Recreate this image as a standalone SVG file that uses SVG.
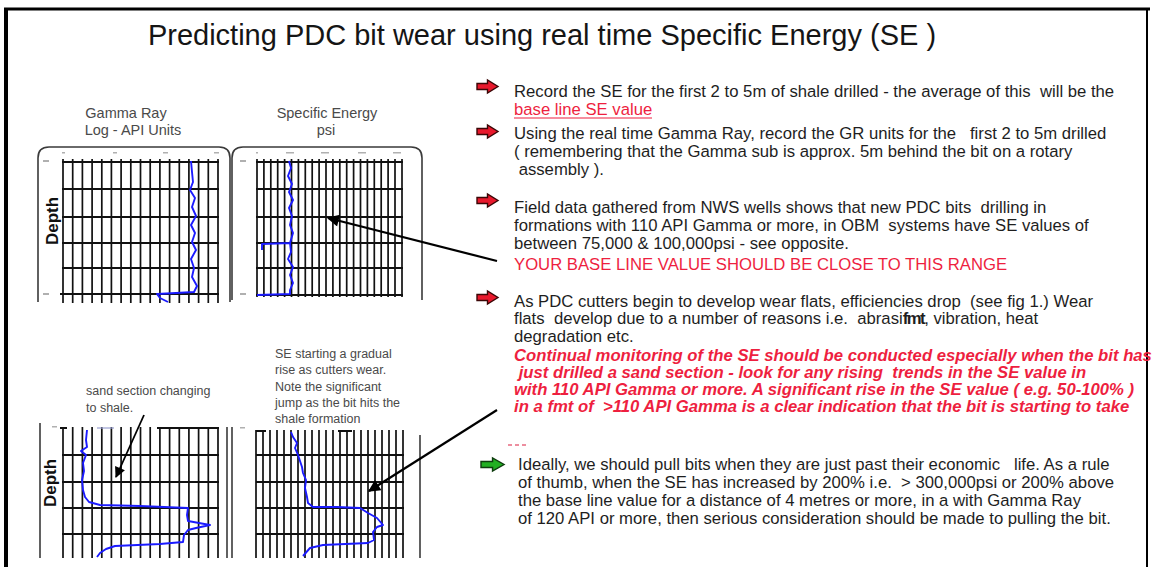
<svg xmlns="http://www.w3.org/2000/svg" width="1152" height="567" viewBox="0 0 1152 567">
<defs>
<style>
text{white-space:pre}
.title{font-family:"Liberation Sans",Arial,sans-serif;font-size:29px;fill:#151515}
.ct{font-family:"Liberation Sans",Arial,sans-serif;font-size:14.5px;fill:#4a4a4a}
.ann{font-family:"Liberation Sans",Arial,sans-serif;font-size:12.5px;fill:#4a4a4a}
.depth{font-family:"Liberation Sans",Arial,sans-serif;font-size:17px;font-weight:bold;fill:#111}
.body{font-family:"Liberation Sans",Arial,sans-serif;font-size:16.7px;fill:#1e1e1e}
.red{font-family:"Liberation Sans",Arial,sans-serif;font-size:16.7px;fill:#ee1f3f}
.redbi{font-family:"Liberation Sans",Arial,sans-serif;font-size:16.7px;font-weight:bold;font-style:italic;fill:#ee1f3f}
.frame{fill:none;stroke:#3a3a3a;stroke-width:1.6}
.gv{fill:none;stroke:#111;stroke-width:1.7}
.gh{fill:none;stroke:#111;stroke-width:2.2}
.curve{fill:none;stroke:#1a1aff;stroke-width:1.9;stroke-linejoin:round}
.tick{fill:#b0b0b0}
.conn{fill:none;stroke:#000;stroke-width:2.2}
</style>
<marker id="ah" viewBox="0 0 10 10" refX="9" refY="5" markerWidth="8" markerHeight="5.5" markerUnits="strokeWidth" orient="auto">
<path d="M0,0 L10,5 L0,10 Z" fill="#000"/>
</marker>
<marker id="ahs" viewBox="0 0 10 10" refX="9" refY="5" markerWidth="7" markerHeight="6" markerUnits="strokeWidth" orient="auto">
<path d="M0,0 L10,5 L0,10 Z" fill="#000"/>
</marker>
<path id="blk" d="M0,3.5 H10.5 V0 L21,6.5 L10.5,13 V9.5 H0 Z"/>
</defs>

<rect width="1152" height="567" fill="#fff"/>

<g id="border">
<line x1="4" y1="9" x2="1150" y2="9" stroke="#000" stroke-width="3"/>
<line x1="6" y1="8" x2="6" y2="567" stroke="#000" stroke-width="4"/>
<line x1="1147" y1="8" x2="1147" y2="567" stroke="#000" stroke-width="2"/>
</g>

<g id="title">
<text class="title" x="542" y="45" text-anchor="middle">Predicting PDC bit wear using real time Specific Energy (SE )</text>
</g>

<g id="chart-gamma-top">
<text class="ct" x="126" y="118" text-anchor="middle">Gamma Ray</text>
<text class="ct" x="133" y="135" text-anchor="middle">Log - API Units</text>
<path class="frame" d="M38,302 V158 Q38,147 49,147 H219 Q230,147 230,158 V302"/>
<rect class="tick" x="62" y="152" width="3" height="1.5"/><rect class="tick" x="113" y="152" width="4" height="1.5"/><rect class="tick" x="163" y="152" width="5" height="1.5"/><rect class="tick" x="214" y="152" width="5" height="1.5"/>
<rect class="tick" x="43" y="160" width="6" height="2"/><rect class="tick" x="43" y="293" width="6" height="2"/>
<path class="gv" d="M63,159V303M72.7,159V303M82.4,159V303M92.1,159V303M101.8,159V303M111.4,159V303M121.1,159V303M130.8,159V303M140.5,159V303M150.2,159V303M159.9,159V303M169.6,159V303M179.3,159V303M188.9,159V303M198.6,159V303M208.3,159V303M218,159V303"/>
<path class="gh" d="M62,162H219M62,189H219M62,217H219M62,243H219M62,268H219M60,294H219"/>
<path class="curve" d="M191,161 L192,172 L193,182 L190,190 L195,198 L192,207 L196,216 L191,225 L195,233 L192,242 L196,250 L191,259 L194,268 L192,277 L197,286 L194,292 L176,293 L157,294 L160,298 L168,302"/>
<text class="depth" transform="translate(58,221) rotate(-90)" text-anchor="middle">Depth</text>
</g>

<g id="chart-se-top">
<text class="ct" x="327" y="118" text-anchor="middle">Specific Energy</text>
<text class="ct" x="326" y="135" text-anchor="middle">psi</text>
<path class="frame" d="M232,300 V158 Q232,147 243,147 H411 Q422,147 422,158 V300"/>
<rect class="tick" x="256" y="152" width="2" height="1.5"/><rect class="tick" x="286" y="152" width="8" height="1.5"/><rect class="tick" x="321" y="152" width="8" height="1.5"/><rect class="tick" x="358" y="152" width="8" height="1.5"/><rect class="tick" x="393" y="152" width="8" height="1.5"/>
<rect class="tick" x="240" y="160" width="6" height="2"/><rect class="tick" x="240" y="293" width="6" height="2"/>
<path class="gv" d="M257,159V297M263.9,159V297M270.8,159V297M277.7,159V297M284.6,159V297M291.5,159V297M298.4,159V297M305.3,159V297M312.2,159V297M319.1,159V297M326,159V297M332.9,159V297M339.8,159V297M346.7,159V297M353.6,159V297M360.5,159V297M367.4,159V297M374.3,159V297M381.2,159V297M388.1,159V297M395,159V297M402,159V297"/>
<path class="gh" d="M256,162H403M256,189H403M256,217H403M256,243H403M256,268H403M256,295H403"/>
<path class="curve" d="M289,161 L291,168 L288,176 L292,184 L289,192 L293,200 L289,208 L292,216 L290,225 L293,233 L290,243 L291,252 L288,259 L293,267 L290,275 L293,283 L290,290 L290,294 L257,295 M290,243 L262,244 L262,250"/>
</g>

<g id="chart-gamma-bottom">
<text class="ann" x="86" y="395">sand section changing</text>
<text class="ann" x="86" y="412">to shale.</text>
<line class="frame" x1="40" y1="423" x2="40" y2="558"/>
<line class="frame" x1="227" y1="427" x2="227" y2="558"/>
<rect class="tick" x="52" y="426" width="5" height="1.5"/>
<path class="gv" d="M63,427V558M72.7,427V558M82.4,427V558M92.1,427V558M101.8,427V558M111.4,427V558M121.1,427V558M130.8,427V558M140.5,427V558M150.2,427V558M159.9,427V558M169.6,427V558M179.3,427V558M188.9,427V558M198.6,427V558M208.3,427V558M218,427V558"/>
<path class="gh" d="M60,428H67M157,428H219M62,455H219M62,482H219M62,508H219M62,534H219"/>
<line x1="97" y1="428" x2="114" y2="428" stroke="#9aa0d0" stroke-width="1.2"/>
<path class="curve" d="M87,430 L86,440 L87,447 L81,451 L86,455 L83,463 L84,471 L82,480 L83,490 L85,497 L89,502 L100,505 L140,506 L188,508 L187,515 L188,521 L199,523 L210,525 L196,528 L188,530 L184,535 L183,542 L160,544 L115,546 L106,549 L100,553 L97,557"/>
<text class="depth" transform="translate(56,483) rotate(-90)" text-anchor="middle">Depth</text>
</g>

<g id="chart-se-bottom">
<text class="ann" x="275" y="358">SE starting a gradual</text>
<text class="ann" x="275" y="374">rise as cutters wear.</text>
<text class="ann" x="275" y="391">Note the significant</text>
<text class="ann" x="275" y="407">jump as the bit hits the</text>
<text class="ann" x="275" y="423">shale formation</text>
<line class="frame" x1="232" y1="427" x2="232" y2="558"/>
<line class="frame" x1="420" y1="435" x2="420" y2="558"/>
<rect class="tick" x="240" y="427" width="5" height="1.5"/>
<path class="gv" d="M256,430V558M263,430V558M270,430V558M277,430V558M284,430V558M291,430V558M298,430V558M305,430V558M312,430V558M319,430V558M326,430V558M333,430V558M340,430V558M347,430V558M354,430V558M361,430V558M368,430V558M375,430V558M382,430V558M389,430V558M396,430V558M403,430V558"/>
<path class="gh" d="M256,431H266M338,431H352M256,455H404M256,482H404M256,508H404M256,534H404"/>
<path class="curve" d="M291,432 L293,437 L297,443 L295,448 L298,455 L302,467 L303,473 L306,480 L305,488 L307,497 L308,503 L313,507 L337,507 L360,508 L368,513 L377,518 L383,525 L377,527 L373,532 L374,540 L368,543 L323,545 L310,548 L303,556"/>
</g>

<g id="connectors">
<line class="conn" x1="497" y1="261" x2="328" y2="218" marker-end="url(#ah)"/>
<line class="conn" x1="497" y1="410" x2="369" y2="491" marker-end="url(#ah)"/>
<line x1="144" y1="415" x2="116" y2="477" stroke="#000" stroke-width="1.8" marker-end="url(#ahs)"/>
</g>

<g id="bullet-1">
<use href="#blk" transform="translate(477,80)" fill="#e8182c" stroke="#3a0606" stroke-width="1.4"/>
<text class="body" x="514" y="97">Record the SE for the first 2 to 5m of shale drilled - the average of this  will be the</text>
<text class="red" x="514" y="115">base line SE value</text>
<line x1="514" y1="118" x2="652" y2="118" stroke="#ee1f3f" stroke-width="1.2"/>
</g>

<g id="bullet-2">
<use href="#blk" transform="translate(477,125)" fill="#e8182c" stroke="#3a0606" stroke-width="1.4"/>
<text class="body" x="514" y="139">Using the real time Gamma Ray, record the GR units for the   first 2 to 5m drilled</text>
<text class="body" x="514" y="157">( remembering that the Gamma sub is approx. 5m behind the bit on a rotary</text>
<text class="body" x="514" y="175"> assembly ).</text>
</g>

<g id="bullet-3">
<use href="#blk" transform="translate(477,194)" fill="#e8182c" stroke="#3a0606" stroke-width="1.4"/>
<text class="body" x="514" y="213">Field data gathered from NWS wells shows that new PDC bits  drilling in</text>
<text class="body" x="514" y="231">formations with 110 API Gamma or more, in OBM  systems have SE values of</text>
<text class="body" x="514" y="249">between 75,000 &amp; 100,000psi - see opposite.</text>
<text class="red" x="514" y="270">YOUR BASE LINE VALUE SHOULD BE CLOSE TO THIS RANGE</text>
</g>

<g id="bullet-4">
<use href="#blk" transform="translate(477,291)" fill="#e8182c" stroke="#3a0606" stroke-width="1.4"/>
<text class="body" x="514" y="307">As PDC cutters begin to develop wear flats, efficiencies drop  (see fig 1.) Wear</text>
<text class="body" x="514" y="324">flats  develop due to a number of reasons i.e.  abrasi<tspan font-weight="bold" letter-spacing="-1.5">fmt</tspan>, vibration, heat</text>
<text class="body" x="514" y="342">degradation etc.</text>
<text class="redbi" x="514" y="361">Continual monitoring of the SE should be conducted especially when the bit has</text>
<text class="redbi" x="514" y="378"> just drilled a sand section - look for any rising  trends in the SE value in</text>
<text class="redbi" x="514" y="395">with 110 API Gamma or more. A significant rise in the SE value ( e.g. 50-100% )</text>
<text class="redbi" x="514" y="412">in a fmt of  &gt;110 API Gamma is a clear indication that the bit is starting to take</text>
<line x1="508" y1="445" x2="527" y2="445" stroke="#e86a80" stroke-width="1.3" stroke-dasharray="4,3"/>
</g>

<g id="bullet-5">
<use href="#blk" transform="translate(481,458) scale(1.1,1)" fill="#22b022" stroke="#0e3d0e" stroke-width="1.3"/>
<text class="body" x="518" y="470">Ideally, we should pull bits when they are just past their economic   life. As a rule</text>
<text class="body" x="518" y="488">of thumb, when the SE has increased by 200% i.e.  &gt; 300,000psi or 200% above</text>
<text class="body" x="518" y="506">the base line value for a distance of 4 metres or more, in a with Gamma Ray</text>
<text class="body" x="518" y="524">of 120 API or more, then serious consideration should be made to pulling the bit.</text>
</g>
</svg>
